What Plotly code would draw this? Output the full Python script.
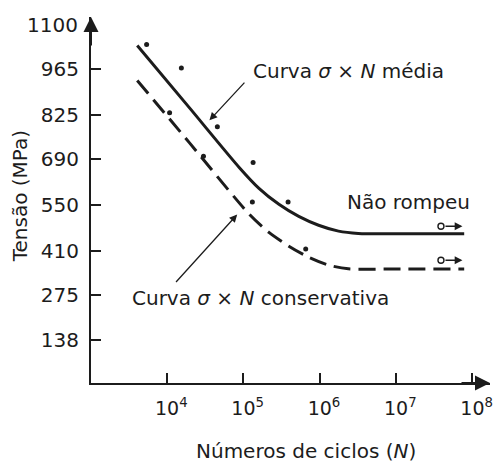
import numpy as np
import plotly.graph_objects as go

# Curva de fadiga (Tensão x Números de ciclos)
ciclos_ensaios = [5.4e3, 1.54e4, 4.56e4, 1.34e5, 1.31e5, 3.85e5, 6.55e5, 1.08e4, 3.0e4]
tensao_ensaios = [1041, 969, 789, 680, 559, 559, 415, 832, 699]

ciclos_media = [4.07e3, 1.97e4, 8.81e4, 1.6e5, 2.92e5, 5.31e5, 9.66e5, 1.76e6, 3.2e6, 1.0e7, 7.8e7]
tensao_media = [1038, 847, 665, 601, 552, 515, 488, 470, 463, 462, 462]

ciclos_conserv = [4.07e3, 1.97e4, 1.19e5, 2.16e5, 3.94e5, 7.16e5, 1.3e6, 2.37e6, 1.0e7, 7.8e7]
tensao_conserv = [931, 740, 522, 466, 424, 390, 366, 355, 354, 354]

# corpos de prova que não romperam (run-out)
ciclos_nao_rompeu = [3.87e7, 3.87e7]
tensao_nao_rompeu = [485, 381]
ciclos_seta_fim = 7.4e7

tick_tensao = [138, 275, 410, 550, 690, 825, 965]
tick_ciclos = [1e4, 1e5, 1e6, 1e7, 1e8]
expoentes = [4, 5, 6, 7, 8]

INK = "#1c1c1c"
FONT = "DejaVu Sans"

ticktext_ciclos = [
    f'<span style="color:rgba(0,0,0,0)"><sup>{e}</sup></span>10<sup>{e}</sup>'
    for e in expoentes
]

fig = go.Figure()

fig.add_trace(go.Scatter(
    x=ciclos_media, y=tensao_media, mode="lines",
    line=dict(color=INK, width=3, shape="spline", smoothing=0.7),
    hoverinfo="skip", showlegend=False,
))
fig.add_trace(go.Scatter(
    x=ciclos_conserv, y=tensao_conserv, mode="lines",
    line=dict(color=INK, width=3, shape="spline", smoothing=0.7, dash="17px,8px"),
    hoverinfo="skip", showlegend=False,
))
fig.add_trace(go.Scatter(
    x=ciclos_ensaios, y=tensao_ensaios, mode="markers",
    marker=dict(color=INK, size=5),
    showlegend=False,
))
fig.add_trace(go.Scatter(
    x=ciclos_nao_rompeu, y=tensao_nao_rompeu, mode="markers",
    marker=dict(symbol="circle-open", color=INK, size=6, line=dict(width=1.4)),
    showlegend=False,
))

ann = []
# setas dos corpos de prova que não romperam
for c, t in zip(ciclos_nao_rompeu, tensao_nao_rompeu):
    ann.append(dict(
        x=np.log10(ciclos_seta_fim), y=t, xref="x", yref="y",
        ax=np.log10(c), ay=t, axref="x", ayref="y",
        text="", showarrow=True, arrowhead=2, arrowsize=1.2, arrowwidth=1.3,
        arrowcolor=INK, startstandoff=3,
    ))

# rótulos das curvas com setas
ann.append(dict(
    x=4.555, y=809, xref="x", yref="y", ax=5.032, ay=929, axref="x", ayref="y",
    text="", showarrow=True, arrowhead=2, arrowsize=1.2, arrowwidth=1.3, arrowcolor=INK,
))
ann.append(dict(
    x=4.919, y=521, xref="x", yref="y", ax=4.100, ay=310, axref="x", ayref="y",
    text="", showarrow=True, arrowhead=2, arrowsize=1.2, arrowwidth=1.3, arrowcolor=INK,
))
ann.append(dict(
    x=6.375, y=960, xref="x", yref="y", showarrow=False,
    text="Curva <i>σ</i> × <i>N</i> média",
    font=dict(family=FONT, size=20, color=INK), xanchor="center", yanchor="middle",
))
ann.append(dict(
    x=5.224, y=264, xref="x", yref="y", showarrow=False,
    text="Curva <i>σ</i> × <i>N</i> conservativa",
    font=dict(family=FONT, size=20, color=INK), xanchor="center", yanchor="middle",
))
ann.append(dict(
    x=7.161, y=559, xref="x", yref="y", showarrow=False,
    text="Não rompeu",
    font=dict(family=FONT, size=20, color=INK), xanchor="center", yanchor="middle",
))

# pontas de seta dos eixos
ann.append(dict(
    x=1, y=0, xref="paper", yref="paper", ax=-30, ay=0,
    text="", showarrow=True, arrowhead=2, arrowsize=1.5, arrowwidth=2, arrowcolor=INK,
))
ann.append(dict(
    x=0, y=1, xref="paper", yref="paper", ax=0, ay=30,
    text="", showarrow=True, arrowhead=2, arrowsize=1.5, arrowwidth=2, arrowcolor=INK,
))

# rótulo superior do eixo de tensão
ann.append(dict(
    x=-0.027, y=1100, xref="paper", yref="y", showarrow=False, text="1100",
    font=dict(family=FONT, size=20, color=INK), xanchor="right", yanchor="middle",
))

# títulos dos eixos
ann.append(dict(
    x=5.822, y=-0.186, xref="x", yref="paper", showarrow=False,
    text="Números de ciclos (<i>N</i>)",
    font=dict(family=FONT, size=20, color=INK), xanchor="center", yanchor="middle",
))
ann.append(dict(
    x=-0.178, y=0.51, xref="paper", yref="paper", showarrow=False,
    text="Tensão (MPa)", textangle=-90,
    font=dict(family=FONT, size=20, color=INK), xanchor="center", yanchor="middle",
))

fig.update_layout(
    width=497, height=463,
    margin=dict(l=91, r=4, t=17, b=80),
    paper_bgcolor="white", plot_bgcolor="white",
    font=dict(family=FONT, color=INK),
    annotations=ann,
    xaxis=dict(
        type="log", range=[3.004, 8.23],
        showline=True, linewidth=2, linecolor=INK,
        ticks="inside", ticklen=10, tickwidth=2, tickcolor=INK,
        tickvals=tick_ciclos, ticktext=ticktext_ciclos,
        tickfont=dict(family=FONT, size=19, color=INK),
        ticklabelstandoff=7,
        showgrid=False, zeroline=False,
    ),
    yaxis=dict(
        range=[5.5, 1125],
        showline=True, linewidth=2, linecolor=INK,
        ticks="inside", ticklen=10, tickwidth=2, tickcolor=INK,
        tickvals=tick_tensao,
        tickfont=dict(family=FONT, size=20, color=INK),
        ticklabelstandoff=6,
        showgrid=False, zeroline=False,
    ),
)

fig.write_html("out.html")
